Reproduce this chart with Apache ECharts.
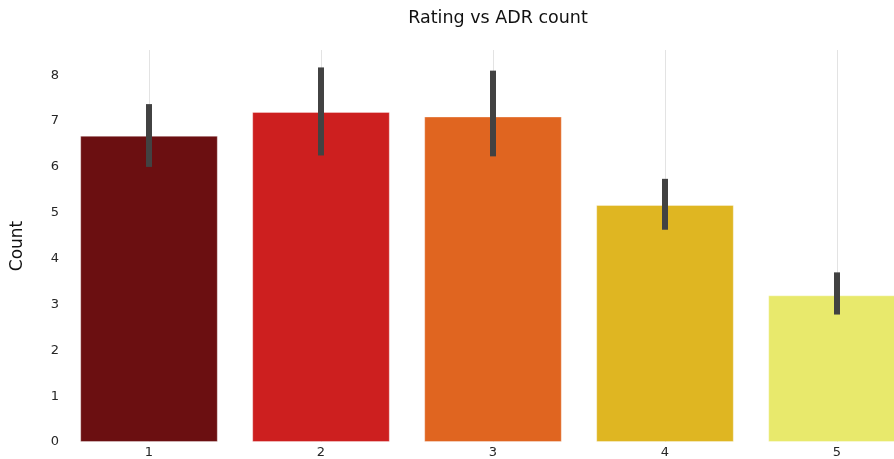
<!DOCTYPE html>
<html>
<head>
<meta charset="utf-8">
<script src="https://cdn.jsdelivr.net/npm/echarts@6/dist/echarts.min.js"></script>
<style>
html,body{margin:0;padding:0;background:#fff;}
#chart{width:894px;height:459px;}
</style>
</head>
<body>
<div id="chart"></div>
<script>
const categories = ['1', '2', '3', '4', '5'];
const meanValues = [6.68, 7.2, 7.1, 5.17, 3.2];
const ciLow = [6.0, 6.25, 6.23, 4.63, 2.78];
const ciHigh = [7.37, 8.17, 8.1, 5.74, 3.7];
const barColors = ['#6b0f11', '#cd1f1f', '#e06520', '#dfb622', '#e8e96c'];
const yTicks = [0, 1, 2, 3, 4, 5, 6, 7, 8];

const chart = echarts.init(document.getElementById('chart'), null, {renderer: 'canvas'});
const font = 'DejaVu Sans';
const Y_MAX = 8.55;

chart.setOption({
  animation: false,
  backgroundColor: '#ffffff',
  title: {
    text: 'Rating vs ADR count',
    left: 493, top: 4, textAlign: 'center',
    textStyle: {fontFamily: font, fontSize: 17.5, fontWeight: 'normal', color: '#111111'}
  },
  grid: {left: 63, width: 860, top: 50, height: 392, containLabel: false, outerBoundsMode: 'none'},
  xAxis: {
    type: 'category',
    data: categories,
    boundaryGap: true,
    axisLine: {show: false},
    axisTick: {show: false},
    splitLine: {show: false},
    axisLabel: {fontFamily: font, fontSize: 13, color: '#262626', margin: 4}
  },
  yAxis: {
    type: 'value',
    min: 0, max: Y_MAX, interval: 1,
    name: 'Count',
    nameLocation: 'middle',
    nameGap: 37,
    nameTextStyle: {fontFamily: font, fontSize: 17, color: '#111111'},
    axisLine: {show: false},
    axisTick: {show: false},
    splitLine: {show: false},
    axisLabel: {
      fontFamily: font, fontSize: 13, color: '#262626', margin: 4, padding: [6, 0, 0, 0],
      formatter: function (v) { return yTicks.indexOf(v) >= 0 ? String(v) : ''; }
    }
  },
  series: [
    {
      type: 'custom',
      z: 0,
      silent: true,
      data: categories.map((c, i) => [i]),
      renderItem: function (params, api) {
        const i = api.value(0);
        const p0 = api.coord([i, 0]);
        const p1 = api.coord([i, Y_MAX]);
        return {
          type: 'line',
          shape: {x1: Math.round(p0[0]) + 0.5, y1: p0[1], x2: Math.round(p0[0]) + 0.5, y2: p1[1]},
          style: {stroke: '#e3e3e3', lineWidth: 1}
        };
      }
    },
    {
      type: 'bar',
      z: 2,
      barCategoryGap: '20%',
      data: meanValues.map((v, i) => ({
        value: v,
        itemStyle: {color: barColors[i], borderColor: 'rgba(255,255,255,0.35)', borderWidth: 1}
      }))
    },
    {
      type: 'custom',
      z: 3,
      data: categories.map((c, i) => [i, ciLow[i], ciHigh[i]]),
      renderItem: function (params, api) {
        const i = api.value(0);
        const lo = api.coord([i, api.value(1)]);
        const hi = api.coord([i, api.value(2)]);
        const w = 6;
        return {
          type: 'rect',
          shape: {x: lo[0] - w / 2, y: hi[1], width: w, height: lo[1] - hi[1]},
          style: {fill: '#424242'}
        };
      }
    }
  ]
});
</script>
</body>
</html>
